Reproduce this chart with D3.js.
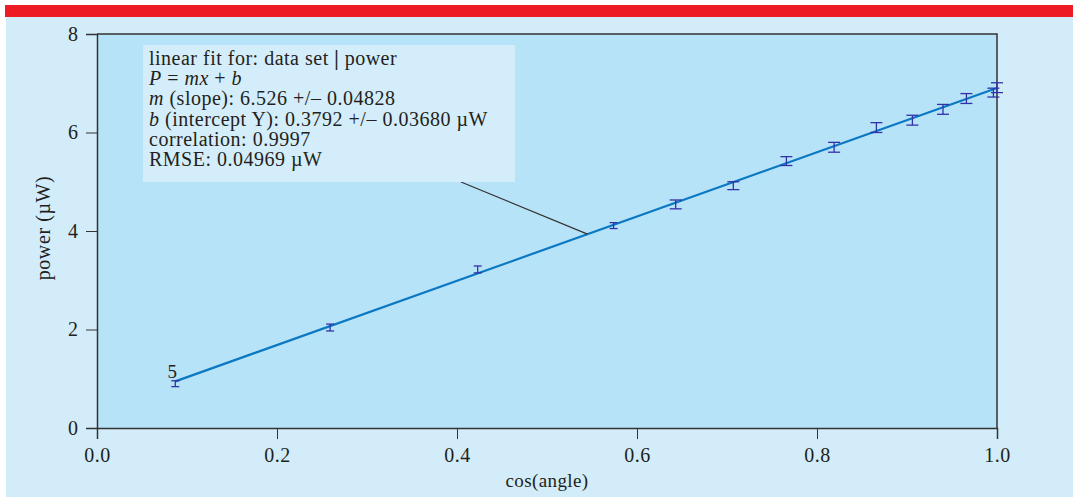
<!DOCTYPE html>
<html>
<head>
<meta charset="utf-8">
<script src="https://cdn.jsdelivr.net/npm/d3@7"></script>
<style>
  html, body { margin: 0; padding: 0; background: #ffffff; }
  svg text { font-family: "Liberation Serif", "DejaVu Serif", serif; fill: #231f20; }
</style>
</head>
<body>
<div id="chart"></div>
<script>
// measured cos(angle) values and power readings (µW), with error bars
const cosAngle = [0.087, 0.259, 0.423, 0.574, 0.643, 0.707, 0.766, 0.819, 0.866, 0.906, 0.940, 0.966, 0.996, 1.000];
const power    = [0.90, 2.04, 3.22, 4.11, 4.54, 4.92, 5.42, 5.70, 6.10, 6.25, 6.47, 6.69, 6.81, 6.91];
const powerErr = [0.06, 0.07, 0.07, 0.06, 0.09, 0.08, 0.09, 0.10, 0.10, 0.10, 0.10, 0.10, 0.09, 0.10];

const fitSlope = 6.526;
const fitIntercept = 0.3792;
const leaderX = 0.545;

const xTicks = [0, 0.2, 0.4, 0.6, 0.8, 1.0];
const yTicks = [0, 2, 4, 6, 8];

const fitLines = [
  [{t: "linear fit for: data set "}, {t: "|", b: true}, {t: " power"}],
  [{t: "P", i: true}, {t: " = "}, {t: "mx", i: true}, {t: " + "}, {t: "b", i: true}],
  [{t: "m", i: true}, {t: " (slope): 6.526 +/\u2013 0.04828"}],
  [{t: "b", i: true}, {t: " (intercept Y): 0.3792 +/\u2013 0.03680 \u00b5W"}],
  [{t: "correlation: 0.9997"}],
  [{t: "RMSE: 0.04969 \u00b5W"}]
];

const W = 1073, H = 498;
const margin = {top: 34, right: 76, bottom: 70, left: 97};

const svg = d3.select("#chart").append("svg")
  .attr("width", W).attr("height", H);

// red header stripe and panel background
svg.append("rect").attr("x", 5).attr("y", 5).attr("width", W - 5).attr("height", 12)
  .attr("fill", "#ed1c24");
svg.append("rect").attr("x", 6).attr("y", 17).attr("width", W - 6).attr("height", H - 18)
  .attr("fill", "#d2ecf9");

const innerW = W - margin.left - margin.right;
const innerH = H - margin.top - margin.bottom;

const x = d3.scaleLinear().domain([0, 1]).range([0, innerW]);
const y = d3.scaleLinear().domain([0, 8]).range([innerH, 0]);

const g = svg.append("g").attr("transform", `translate(${margin.left},${margin.top})`);

g.append("rect").attr("width", innerW).attr("height", innerH).attr("fill", "#b7e3f8");

// frame: top and right edges
g.append("path")
  .attr("d", `M0,0H${innerW}V${innerH}`)
  .attr("fill", "none").attr("stroke", "#333").attr("stroke-width", 1.5);

const xAxis = g.append("g").attr("transform", `translate(0,${innerH})`)
  .call(d3.axisBottom(x).tickValues(xTicks).tickFormat(d3.format(".1f")).tickSize(11).tickPadding(5));
const yAxis = g.append("g")
  .call(d3.axisLeft(y).tickValues(yTicks).tickFormat(d3.format("d")).tickSize(11).tickPadding(8));

[xAxis, yAxis].forEach(a => {
  a.select(".domain").attr("stroke", "#333").attr("stroke-width", 1.5);
  a.selectAll(".tick line").attr("stroke", "#333");
  a.selectAll(".tick text").attr("font-size", 20)
    .attr("font-family", "'Liberation Serif', serif").attr("fill", "#231f20");
});
xAxis.selectAll(".tick text").attr("dy", "0.9em").attr("letter-spacing", 0.5);

svg.append("text").attr("x", margin.left + innerW / 2).attr("y", 487)
  .attr("text-anchor", "middle").attr("font-size", 19).attr("letter-spacing", 0.4).text("cos(angle)");
svg.append("text")
  .attr("transform", `translate(50,${margin.top + innerH / 2 - 3}) rotate(-90)`)
  .attr("text-anchor", "middle").attr("font-size", 20).attr("letter-spacing", 0.6).text("power (\u00b5W)");

// fit line
const xr = d3.extent(cosAngle);
g.append("line")
  .attr("x1", x(xr[0])).attr("y1", y(fitSlope * xr[0] + fitIntercept))
  .attr("x2", x(xr[1])).attr("y2", y(fitSlope * xr[1] + fitIntercept))
  .attr("stroke", "#0a78c2").attr("stroke-width", 2.2);

// error bars
const pts = cosAngle.map((c, i) => ({c, p: power[i], e: powerErr[i]}));
const eb = g.selectAll(".eb").data(pts).join("g").attr("class", "eb")
  .attr("stroke", "#3232a8").attr("stroke-width", 1.3);
eb.append("line")
  .attr("x1", d => x(d.c)).attr("x2", d => x(d.c))
  .attr("y1", d => y(d.p - d.e)).attr("y2", d => y(d.p + d.e));
[-1, 1].forEach(s => {
  eb.append("line")
    .attr("x1", d => x(d.c) - (d.e < 0.075 ? 4 : 6))
    .attr("x2", d => x(d.c) + (d.e < 0.075 ? 4 : 6))
    .attr("y1", d => y(d.p + s * d.e)).attr("y2", d => y(d.p + s * d.e));
});

// point label
g.append("text").attr("x", x(cosAngle[0])).attr("y", y(power[0])).attr("dx", -3).attr("dy", -6)
  .attr("text-anchor", "middle").attr("font-size", 19)
  .attr("font-family", "'Liberation Sans', sans-serif").text("5");

// annotation box with leader line
const box = {x: 46, y: 11, w: 372, h: 137};
g.append("line")
  .attr("x1", box.x + 318).attr("y1", box.y + box.h)
  .attr("x2", x(leaderX)).attr("y2", y(fitSlope * leaderX + fitIntercept))
  .attr("stroke", "#333").attr("stroke-width", 1.2);
g.append("rect").attr("x", box.x).attr("y", box.y).attr("width", box.w).attr("height", box.h)
  .attr("fill", "#d4edfa");

const txt = g.append("text").attr("font-size", 20).attr("letter-spacing", 0.5);
fitLines.forEach((line, i) => {
  const row = txt.append("tspan").attr("x", box.x + 6).attr("y", box.y + 20 + i * 20.2);
  line.forEach((seg, j) => {
    const ts = j === 0 ? row : txt.append("tspan");
    ts.text(seg.t);
    if (seg.i) ts.attr("font-style", "italic");
    if (seg.b) ts.attr("font-weight", "bold");
  });
});
</script>
</body>
</html>
